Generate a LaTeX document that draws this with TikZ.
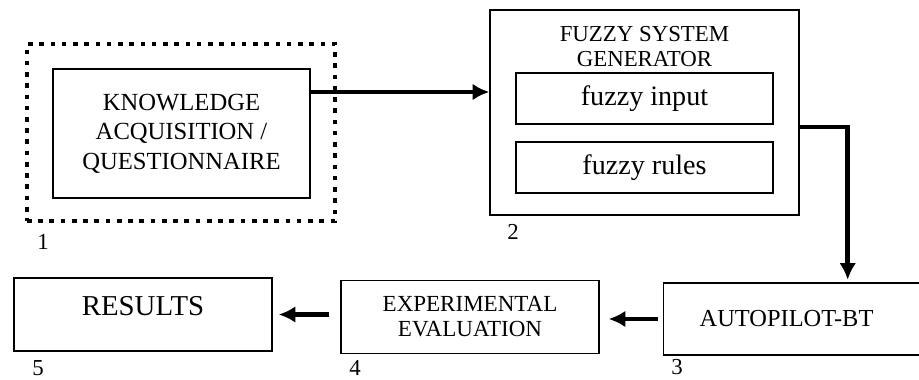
\documentclass[tikz,border=0pt]{standalone}
\usepackage{fontspec}
\setmainfont{Liberation Serif}
\usetikzlibrary{arrows.meta}

\newcommand{\fsz}[2]{\fontsize{#1}{#2}\selectfont}

\begin{document}
\begin{tikzpicture}[
        box/.style={draw, line width=0.8pt, align=center, inner sep=0pt},
        arr/.style={-{Latex[length=9.5pt,width=9.5pt]}, line width=2.7pt},
        num/.style={font=\fsz{13}{15}}
      ]
        \useasboundingbox (0,0) rectangle (18.38,-7.58);

        % stage 1
        \node[draw, line width=2.6pt, dash pattern=on 2.6pt off 3.8pt,
              minimum width=6.16cm, minimum height=3.54cm]
          (frame) at (3.62,-2.65) {};
        \node[box, minimum width=5.14cm, minimum height=2.58cm,
              font=\fsz{14}{16.8}]
          (know) at (3.63,-2.67) {KNOWLEDGE\\ACQUISITION /\\QUESTIONNAIRE};

        % stage 2
        \node[box, minimum width=6.18cm, minimum height=4.10cm]
          (fsg) at (12.89,-2.25) {};
        \node[font=\fsz{13}{14.7}, align=center, inner sep=0pt]
          (fsgtitle) at (12.89,-0.93) {FUZZY SYSTEM\\GENERATOR};
        \node[box, minimum width=5.14cm, minimum height=1.02cm,
              font=\fsz{16}{19}]
          (fin) at (12.89,-1.97) {fuzzy input};
        \node[box, minimum width=5.14cm, minimum height=1.02cm,
              font=\fsz{16}{19}]
          (frul) at (12.89,-3.35) {fuzzy rules};

        % stages 3-5
        \node[box, anchor=west, text width=3.8cm, inner xsep=0.72cm,
              minimum height=1.44cm, align=left, font=\fsz{13.9}{16}]
          (auto) at (13.26,-6.38) {AUTOPILOT-BT};
        \node[box, minimum width=5.16cm, minimum height=1.46cm,
              font=\fsz{13.1}{14.2}]
          (expe) at (9.40,-6.34) {EXPERIMENTAL\\EVALUATION};
        \node[box, minimum width=5.16cm, minimum height=1.46cm,
              text depth=9.6pt, font=\fsz{16.4}{19}]
          (res) at (2.86,-6.29) {RESULTS};

        % numbers
        \node[num] (n1) at (0.86,-4.84) {1};
        \node[num] (n2) at (10.26,-4.64) {2};
        \node[num] (n3) at (13.54,-7.34) {3};
        \node[num] (n4) at (7.10,-7.36) {4};
        \node[num] (n5) at (0.76,-7.36) {5};

        \coordinate (kout) at ([yshift=0.83cm]know.east);
        \draw[arr] (kout) -- (kout -| fsg.west);
        \draw[arr] ([yshift=-0.29cm]fsg.east) -| ([xshift=1.06cm,yshift=0.05cm]auto.north);
        \draw[arr] ([xshift=-0.1cm]auto.west) -- ([xshift=0.18cm]expe.east |- auto.west);
        \draw[arr] ([xshift=-0.22cm]expe.west |- res.east) -- ([xshift=0.12cm]res.east);
      \end{tikzpicture}
\end{document}
